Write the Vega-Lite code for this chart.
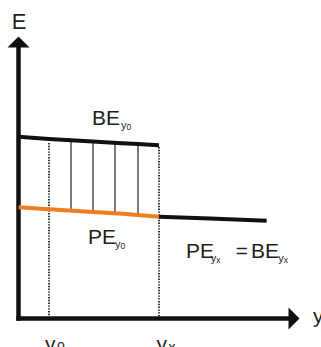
{
  "$schema": "https://vega.github.io/schema/vega-lite/v6.json",
  "width": 321,
  "height": 347,
  "autosize": {"type": "none"},
  "padding": 0,
  "background": "white",
  "config": {"view": {"stroke": null}, "text": {"font": "Liberation Sans", "color": "#231F20"}},
  "layer": [
    {
      "data": {"values": [
        {"x": 0, "x2": 0, "e": -2.2, "e2": 271.5},
        {"x": -2.2, "x2": 270.5, "e": 0, "e2": 0}
      ]},
      "mark": {"type": "rule", "strokeWidth": 4.5, "color": "#111111", "strokeCap": "butt"},
      "encoding": {
        "x": {"field": "x", "type": "quantitative", "scale": {"domain": [-18.5, 302.5], "nice": false, "zero": false}, "axis": null},
        "x2": {"field": "x2"},
        "y": {"field": "e", "type": "quantitative", "scale": {"domain": [-28.5, 318.5], "nice": false, "zero": false}, "axis": null},
        "y2": {"field": "e2"}
      }
    },
    {
      "data": {"values": [{"x": 0, "e": 276.5}]},
      "mark": {"type": "point", "shape": "M0,-0.5L1,0.5L-1,0.5Z", "filled": true, "size": 484, "color": "#111111", "opacity": 1},
      "encoding": {
        "x": {"field": "x", "type": "quantitative"},
        "y": {"field": "e", "type": "quantitative"}
      }
    },
    {
      "data": {"values": [{"x": 275.5, "e": 0}]},
      "mark": {"type": "point", "shape": "M0.5,0L-0.5,-1L-0.5,1Z", "filled": true, "size": 484, "color": "#111111", "opacity": 1},
      "encoding": {
        "x": {"field": "x", "type": "quantitative"},
        "y": {"field": "e", "type": "quantitative"}
      }
    },
    {
      "data": {"values": [
        {"x": 30.5, "x2": 30.5, "e": 175.5, "e2": 2},
        {"x": 140.5, "x2": 140.5, "e": 171.5, "e2": 2}
      ]},
      "mark": {"type": "rule", "strokeWidth": 2, "strokeDash": [1.4, 1.4], "color": "#333333"},
      "encoding": {
        "x": {"field": "x", "type": "quantitative"},
        "x2": {"field": "x2"},
        "y": {"field": "e", "type": "quantitative"},
        "y2": {"field": "e2"}
      }
    },
    {
      "data": {"values": [
        {"x": 52.5, "x2": 52.5, "e": 178.3, "e2": 107.9},
        {"x": 74.5, "x2": 74.5, "e": 176.9, "e2": 106.5},
        {"x": 96.5, "x2": 96.5, "e": 175.7, "e2": 105.0},
        {"x": 119.5, "x2": 119.5, "e": 174.5, "e2": 103.5}
      ]},
      "mark": {"type": "rule", "strokeWidth": 1.3, "color": "#333333"},
      "encoding": {
        "x": {"field": "x", "type": "quantitative"},
        "x2": {"field": "x2"},
        "y": {"field": "e", "type": "quantitative"},
        "y2": {"field": "e2"}
      }
    },
    {
      "data": {"values": [
        {"series": "BE", "x": 0, "e": 181.8},
        {"series": "BE", "x": 30.5, "e": 179.6},
        {"series": "BE", "x": 74.5, "e": 176.9},
        {"series": "BE", "x": 119.5, "e": 174.5},
        {"series": "BE", "x": 140.5, "e": 173.3},
        {"series": "PEx", "x": 140.5, "e": 101.8},
        {"series": "PEx", "x": 191.5, "e": 100.0},
        {"series": "PEx", "x": 248.2, "e": 97.8},
        {"series": "PE", "x": 0, "e": 111.3},
        {"series": "PE", "x": 30.5, "e": 109.2},
        {"series": "PE", "x": 74.5, "e": 106.5},
        {"series": "PE", "x": 119.5, "e": 103.5},
        {"series": "PE", "x": 140.5, "e": 101.8}
      ]},
      "mark": {"type": "line", "strokeWidth": 4, "strokeCap": "butt", "interpolate": "monotone"},
      "encoding": {
        "x": {"field": "x", "type": "quantitative"},
        "y": {"field": "e", "type": "quantitative"},
        "color": {"field": "series", "type": "nominal", "scale": {"domain": ["BE", "PEx", "PE"], "range": ["#111111", "#111111", "#EF7D1C"]}, "legend": null},
        "order": {"field": "x", "type": "quantitative"}
      }
    },
    {
      "data": {"values": [
        {"label": "BE", "x": 73.5, "e": 193.5},
        {"label": "PE", "x": 69.5, "e": 74.2},
        {"label": "PE", "x": 167.5, "e": 60.5},
        {"label": "=", "x": 217.2, "e": 60.5},
        {"label": "BE", "x": 232.5, "e": 60.5},
        {"label": "y", "x": 294.5, "e": -4.5},
        {"label": "y", "x": 26.5, "e": -32.4},
        {"label": "y", "x": 138, "e": -32.4}
      ]},
      "mark": {"type": "text", "fontSize": 21, "align": "left", "baseline": "alphabetic"},
      "encoding": {
        "x": {"field": "x", "type": "quantitative"},
        "y": {"field": "e", "type": "quantitative"},
        "text": {"field": "label"}
      }
    },
    {
      "data": {"values": [{"label": "E", "x": 0.5, "e": 289.5}]},
      "mark": {"type": "text", "fontSize": 22, "align": "center", "baseline": "alphabetic"},
      "encoding": {
        "x": {"field": "x", "type": "quantitative"},
        "y": {"field": "e", "type": "quantitative"},
        "text": {"field": "label"}
      }
    },
    {
      "data": {"values": [
        {"label": "y", "x": 102.5, "e": 190},
        {"label": "y", "x": 96.5, "e": 70.7},
        {"label": "y", "x": 192.2, "e": 57},
        {"label": "y", "x": 259.8, "e": 57}
      ]},
      "mark": {"type": "text", "fontSize": 11, "align": "left", "baseline": "alphabetic"},
      "encoding": {
        "x": {"field": "x", "type": "quantitative"},
        "y": {"field": "e", "type": "quantitative"},
        "text": {"field": "label"}
      }
    },
    {
      "data": {"values": [
        {"label": "0", "x": 108, "e": 189},
        {"label": "0", "x": 102, "e": 69.7},
        {"label": "x", "x": 197.7, "e": 56},
        {"label": "x", "x": 265.3, "e": 56}
      ]},
      "mark": {"type": "text", "fontSize": 8.5, "align": "left", "baseline": "alphabetic"},
      "encoding": {
        "x": {"field": "x", "type": "quantitative"},
        "y": {"field": "e", "type": "quantitative"},
        "text": {"field": "label"}
      }
    },
    {
      "data": {"values": [
        {"label": "0", "x": 38.5, "e": -33.2},
        {"label": "x", "x": 150, "e": -33.2}
      ]},
      "mark": {"type": "text", "fontSize": 14, "align": "left", "baseline": "alphabetic"},
      "encoding": {
        "x": {"field": "x", "type": "quantitative"},
        "y": {"field": "e", "type": "quantitative"},
        "text": {"field": "label"}
      }
    }
  ]
}
